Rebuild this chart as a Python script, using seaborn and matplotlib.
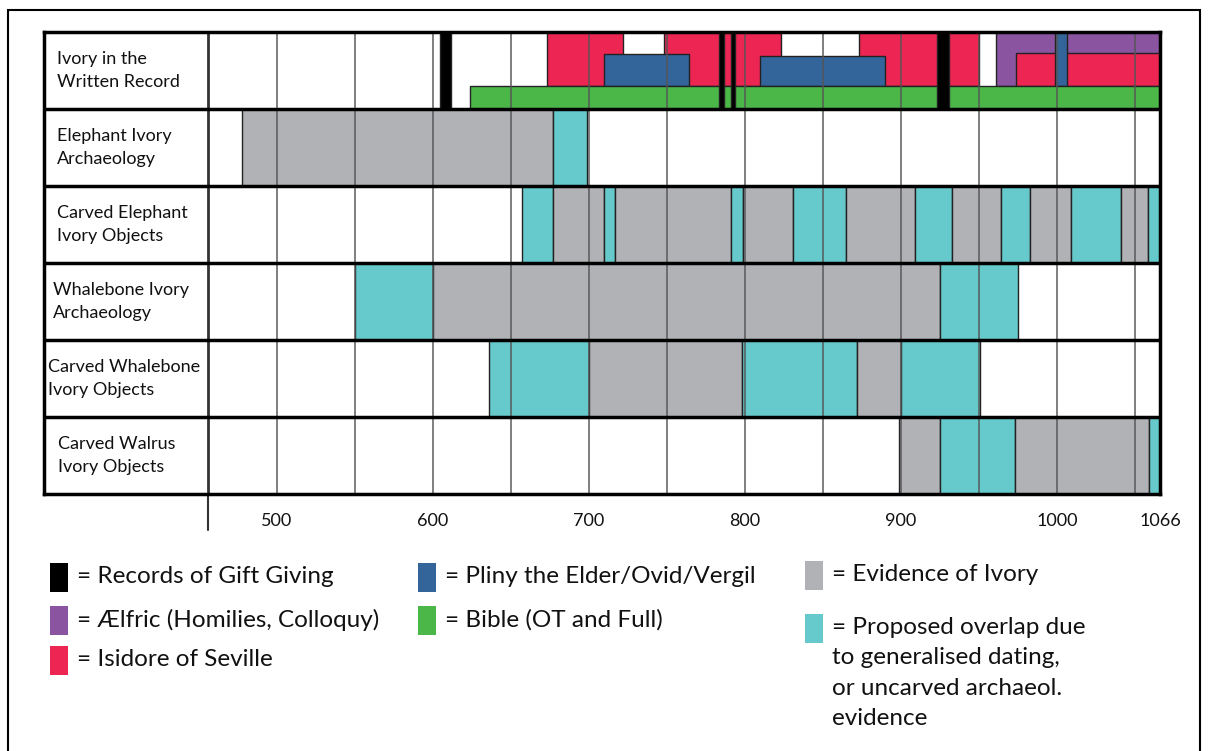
import matplotlib.pyplot as plt
import matplotlib.patches as mpatches
import seaborn as sns

# rows of the timeline, top to bottom
row_labels = ['Ivory in the\nWritten Record', 'Elephant Ivory\nArchaeology', 'Carved Elephant\nIvory Objects',
              'Whalebone Ivory\nArchaeology', 'Carved Whalebone\nIvory Objects', 'Carved Walrus\nIvory Objects']
label_x = [57, 57, 57, 53, 48, 58]  # pixel x of each row label

tick_years = [500, 600, 700, 800, 900, 1000, 1066]
tick_labels = ['500', '600', '700', '800', '900', '1000', '1066']
grid_years = [500, 550, 600, 650, 700, 750, 800, 850, 900, 950, 1000, 1050]

# written record (start year, end year)
gift_giving = [(605, 612), (783.5, 786.5), (791, 794), (923, 931)]
isidore = [(673.5, 722), (748, 823), (873, 950), (974, 1066)]
pliny = [(709.5, 764), (810, 889.5), (999, 1006.5)]
aelfric = [(961, 1066)]
bible = [(624, 1066)]

# archaeology / objects rows: (start, end, kind)  E = evidence of ivory, P = proposed overlap
elephant_arch = [(478, 677, 'E'), (677, 699, 'P')]
carved_elephant = [(657, 677, 'P'), (677, 710, 'E'), (710, 717, 'P'), (717, 791, 'E'), (791, 799, 'P'),
                   (799, 831, 'E'), (831, 865, 'P'), (865, 909, 'E'), (909, 933, 'P'), (933, 964, 'E'),
                   (964, 983, 'P'), (983, 1009, 'E'), (1009, 1041, 'P'), (1041, 1058, 'E'), (1058, 1066, 'P')]
whalebone_arch = [(550, 600, 'P'), (600, 925, 'E'), (925, 975, 'P')]
carved_whalebone = [(636, 700, 'P'), (700, 798.5, 'E'), (798.5, 872, 'P'), (872, 900, 'E'), (900, 950.5, 'P')]
carved_walrus = [(899, 925, 'E'), (925, 973, 'P'), (973, 1059, 'E'), (1059, 1066, 'P')]

BLACK = '#000000'
RED = '#ec2553'
BLUE = '#33659a'
GREEN = '#4bb749'
PURPLE = '#8a54a0'
GREY = '#b1b2b6'
CYAN = '#66c9cb'
EDGE = '#222222'

legend_labels = ['= Records of Gift Giving', '= Ælfric (Homilies, Colloquy)', '= Isidore of Seville',
                 '= Pliny the Elder/Ovid/Vergil', '= Bible (OT and Full)', '= Evidence of Ivory',
                 '= Proposed overlap due\nto generalised dating,\nor uncarved archaeol.\nevidence']
legend_colors = [BLACK, PURPLE, RED, BLUE, GREEN, GREY, CYAN]
legend_pos = [(50, 577), (50, 620), (50, 660), (418, 577), (418, 620), (805, 575), (805, 628)]

sns.set_theme(style='white')
plt.rcParams['font.family'] = ['Lato', 'DejaVu Sans']

W, H = 1210, 751
fig = plt.figure(figsize=(W / 100, H / 100), dpi=100)
ax = fig.add_axes([44 / W, 1 - 494 / H, 1116 / W, 462 / H])
X0, X1 = 351, 1066
LABEL_END = 456
ax.set_xlim(X0, X1)
ax.set_ylim(6, 0)


def block(row, start, end, top, bot, color, z=2):
    ax.barh(row + (top + bot) / 2, end - start, left=start, height=bot - top,
            color=color, edgecolor=EDGE, linewidth=1.0, zorder=z)


# row 1 - written record
for s, e in isidore[:3]:
    block(0, s, e, 0, 0.70, RED)
for s, e in aelfric:
    block(0, s, e, 0, 0.70, PURPLE)
block(0, isidore[3][0], isidore[3][1], 0.27, 0.70, RED)
pliny_top = [0.29, 0.31, 0]
for (s, e), t in zip(pliny, pliny_top):
    block(0, s, e, t, 0.70, BLUE)
for s, e in bible:
    block(0, s, e, 0.70, 1.0, GREEN)
for s, e in gift_giving:
    block(0, s, e, 0, 1.0, BLACK, z=2.5)

# evidence rows
kind_color = {'E': GREY, 'P': CYAN}
for row, segs in enumerate([elephant_arch, carved_elephant, whalebone_arch, carved_whalebone, carved_walrus], start=1):
    for s, e, k in segs:
        block(row, s, e, 0, 1, kind_color[k])

# grid lines over the blocks
ax.vlines(grid_years, 0, 6, color='#555555', alpha=0.75, linewidth=1.4, zorder=3)
ax.vlines([LABEL_END], 0, 6, color='#333333', linewidth=2.0, zorder=4)
ax.hlines([1, 2, 3, 4, 5], X0, X1, color='black', linewidth=2.5, zorder=4)
for sp in ax.spines.values():
    sp.set_visible(True)
    sp.set_color('black')
    sp.set_linewidth(2.5)
    sp.set_zorder(5)

# row labels
for i, (lab, lx) in enumerate(zip(row_labels, label_x)):
    ax.text(X0 + (lx - 44) / 1116 * (X1 - X0), i + 0.5, lab, fontsize=13, ha='left', va='center',
            linespacing=1.6, color='#111111')

ax.set_yticks([])
ax.set_xticks(tick_years)
ax.set_xticklabels(tick_labels, fontsize=13)
ax.tick_params(axis='x', length=0, pad=14, colors='#111111')
ax.plot([LABEL_END, LABEL_END], [6, 6.47], color='#333333', linewidth=1.5, clip_on=False)

# legend
for lab, col, (lx, ly) in zip(legend_labels, legend_colors, legend_pos):
    fig.add_artist(mpatches.Rectangle((lx / W, 1 - (ly + 14.5) / H), 18 / W, 29 / H,
                                      facecolor=col, edgecolor='none', transform=fig.transFigure))
    fig.text((lx + 27) / W, 1 - (ly - 11) / H, lab, fontsize=17.5, ha='left', va='top',
             linespacing=1.55, color='#111111')

# outer frame
fig.add_artist(mpatches.Rectangle((8 / W, -0.05), 1192 / W, 1 - 10 / H + 0.05, fill=False,
                                  edgecolor='black', linewidth=1.5, transform=fig.transFigure, clip_on=False))

plt.savefig('out.png', dpi=100)
